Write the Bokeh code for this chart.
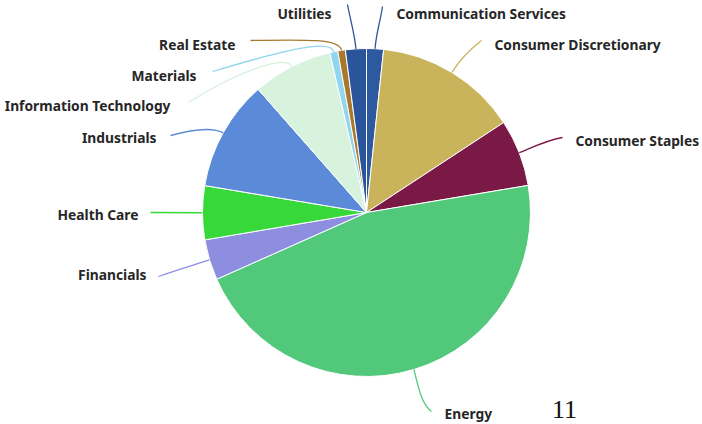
import math
from bokeh.plotting import figure
from bokeh.models import Range1d, ColumnDataSource
from bokeh.core.properties import value
from bokeh.embed import file_html
from bokeh.resources import INLINE

# ---- data ----
sectors = ["Communication Services", "Consumer Discretionary", "Consumer Staples",
           "Energy", "Financials", "Health Care", "Industrials",
           "Information Technology", "Materials", "Real Estate", "Utilities"]
weights = [1.67, 14.1, 6.6, 46.0, 4.0, 5.3, 10.9, 7.9, 0.78, 0.75, 2.06]
colors = ["#2d5a9e", "#c9b45c", "#7b1946", "#52c87a", "#8e8ee0", "#37d83a",
          "#5b8bd8", "#d7f2dd", "#8fd6ee", "#a8792c", "#2a559a"]
page_note = "11"

# ---- layout (screen px of the 702x424 picture) ----
W, H = 702, 424
def Y(sy):
    return H - sy  # picture y -> data y

cx, cy, R = 366, Y(212), 164

# label anchor positions (picture px) and alignment
label_pos = {
    "Communication Services": (396, 13, "left"),
    "Consumer Discretionary": (494, 44, "left"),
    "Consumer Staples": (575, 140, "left"),
    "Energy": (444, 413, "left"),
    "Financials": (146, 274, "right"),
    "Health Care": (138, 214, "right"),
    "Industrials": (156, 137, "right"),
    "Information Technology": (170, 105, "right"),
    "Materials": (196, 75, "right"),
    "Real Estate": (235, 44, "right"),
    "Utilities": (331, 13, "right"),
}
# connector end near label, and control point near label (picture px)
conn_end = {
    "Communication Services": ((382, 6), (380, 20)),
    "Consumer Discretionary": ((481, 40), (472, 47)),
    "Consumer Staples": ((562, 137), (545, 140)),
    "Energy": ((431, 411), (420, 403)),
    "Financials": ((158, 276), (176, 270)),
    "Health Care": ((150, 212), (172, 212)),
    "Industrials": ((170, 135), (195, 128)),
    "Information Technology": ((188, 102), (235, 72)),
    "Materials": ((212, 71), (295, 46)),
    "Real Estate": ((250, 40), (305, 39)),
    "Utilities": ((347, 4), (349, 16)),
}
conn_out = {"Communication Services": 14, "Consumer Discretionary": 14, "Consumer Staples": 12,
            "Energy": 14, "Financials": 12, "Health Care": 12, "Industrials": 10,
            "Information Technology": 14, "Materials": 12, "Real Estate": 12, "Utilities": 14}

p = figure(width=W, height=H, output_backend="svg", toolbar_location=None,
           x_range=Range1d(0, W), y_range=Range1d(0, H),
           min_border=0, outline_line_color=None)
p.axis.visible = False
p.grid.visible = False
p.background_fill_color = "white"
p.border_fill_color = "white"

total = sum(weights)
starts, ends, mids = [], [], []
acc = 0.0
for w in weights:
    t0 = acc / total * 2 * math.pi
    acc += w
    t1 = acc / total * 2 * math.pi
    starts.append(math.pi / 2 - t0)
    ends.append(math.pi / 2 - t1)
    mids.append((t0 + t1) / 2)

src = ColumnDataSource(dict(start=starts, end=ends, color=colors, name=sectors))
p.wedge(x=cx, y=cy, radius=R, start_angle="start", end_angle="end", direction="clock",
        fill_color="color", line_color="white", line_width=1, source=src)

# connectors
bz = dict(x0=[], y0=[], x1=[], y1=[], cx0=[], cy0=[], cx1=[], cy1=[], color=[])
for name, col, th in zip(sectors, colors, mids):
    ex, ey = cx + R * math.sin(th), cy + R * math.cos(th)
    d = conn_out[name]
    c0x, c0y = ex + d * math.sin(th), ey + d * math.cos(th)
    (lx, ly), (c1x, c1y) = conn_end[name]
    bz["x0"].append(ex); bz["y0"].append(ey)
    bz["x1"].append(lx); bz["y1"].append(Y(ly))
    bz["cx0"].append(c0x); bz["cy0"].append(c0y)
    bz["cx1"].append(c1x); bz["cy1"].append(Y(c1y))
    bz["color"].append(col)
p.bezier(x0="x0", y0="y0", x1="x1", y1="y1", cx0="cx0", cy0="cy0", cx1="cx1", cy1="cy1",
         line_color="color", line_width=1.3, source=ColumnDataSource(bz))

# labels
for align in ("left", "right"):
    xs, ys, ts = [], [], []
    for name in sectors:
        lx, ly, a = label_pos[name]
        if a == align:
            xs.append(lx); ys.append(Y(ly)); ts.append(name)
    p.text(x=xs, y=ys, text=ts, text_align=align, text_baseline="middle",
           text_font=value("Noto Sans"), text_font_size="13.8px", text_font_style="bold",
           text_color="#262626")

p.text(x=[564], y=[Y(409)], text=[page_note], text_align="center", text_baseline="middle",
       text_font=value("Liberation Serif"), text_font_size="26px", text_color="#111111")

open("out.html", "w").write(file_html(p, INLINE))
